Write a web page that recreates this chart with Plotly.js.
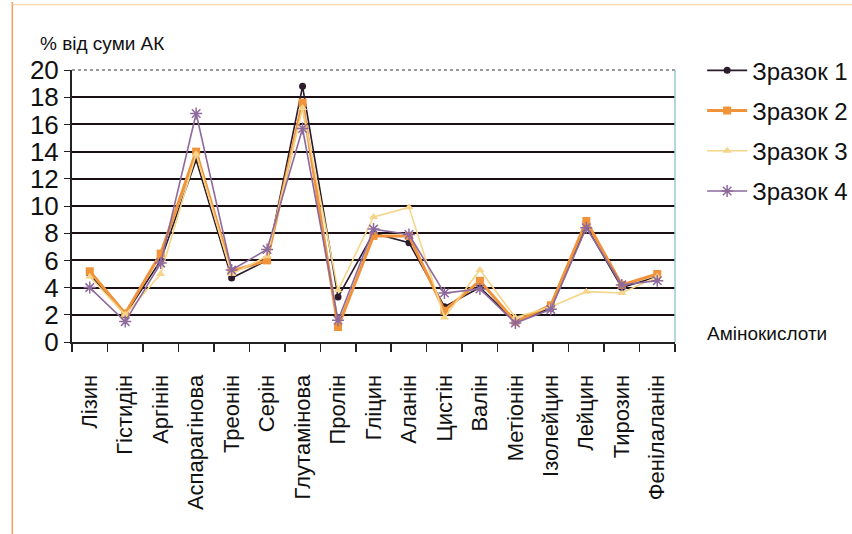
<!DOCTYPE html>
<html>
<head>
<meta charset="utf-8">
<script src="https://cdn.plot.ly/plotly-3.0.1.min.js"></script>
<style>html,body{margin:0;padding:0;background:#fff;}#chart{width:852px;height:534px;}</style>
</head>
<body>
<div id="chart"></div>
<script>
const categories = ["Лізин","Гістидін","Аргінін","Аспарагінова","Треонін","Серін","Глутамінова","Пролін","Гліцин","Аланін","Цистін","Валін","Метіонін","Ізолейцин","Лейцин","Тирозин","Фенілаланін"];
const sample1 = [5.0, 2.0, 6.0, 13.4, 4.7, 6.0, 18.8, 3.3, 8.0, 7.3, 2.6, 4.0, 1.5, 2.5, 8.5, 4.0, 4.8];
const sample2 = [5.2, 2.1, 6.5, 14.0, 5.2, 6.0, 17.6, 1.1, 7.8, 7.8, 2.3, 4.5, 1.5, 2.7, 8.9, 4.2, 5.0];
const sample3 = [4.8, 2.0, 5.0, 13.8, 5.0, 6.3, 17.2, 3.8, 9.2, 9.9, 1.8, 5.3, 1.8, 2.6, 3.7, 3.6, 4.8];
const sample4 = [4.0, 1.5, 5.8, 16.8, 5.3, 6.8, 15.7, 1.6, 8.3, 7.9, 3.6, 3.9, 1.4, 2.4, 8.4, 4.2, 4.5];
const seriesNames = ["Зразок 1","Зразок 2","Зразок 3","Зразок 4"];
const yTicks = [0,2,4,6,8,10,12,14,16,18,20];

const colors = ["#2b1b2b","#f0933a","#f5d58a","#8e6a9c"];
const symbols = ["circle","square","triangle-up","asterisk-open"];
const sizes = [7,8,8,10];
const data = [sample1,sample2,sample3,sample4].map((vals,i)=>({
  type:"scatter", mode:"lines+markers", x:categories, y:vals, name:seriesNames[i], legendgroup:"g"+i,
  line:{color:colors[i], width: i===1?3:1.6},
  marker:{color:colors[i], symbol:symbols[i], size:sizes[i], line:{color:colors[i], width: i===3?1.5:0}}
}));

const layout = {
  width:852, height:534,
  margin:{l:72, r:177, t:70, b:192, autoexpand:false},
  paper_bgcolor:"#fff", plot_bgcolor:"#fff",
  font:{family:"Liberation Sans, Arial, sans-serif", color:"#111"},
  showlegend:true,
  legend:{x:1.045, xanchor:"left", y:1.08, yanchor:"top", font:{size:24, color:"#111"}, tracegroupgap:6, itemwidth:40, bgcolor:"rgba(0,0,0,0)"},
  xaxis:{type:"category", range:[-0.5,16.5], tickangle:-90, tickfont:{size:22, color:"#111"},
         ticks:"outside", tickson:"boundaries", ticklen:8, tickcolor:"#222", tickwidth:1.5, ticklabelstandoff:22,
         showline:true, linecolor:"#222", linewidth:2, showgrid:false, automargin:false, fixedrange:true},
  yaxis:{range:[0,20], tickvals:yTicks, ticktext:yTicks.map(String), tickfont:{size:26, color:"#111"},
         ticks:"outside", ticklen:6, tickcolor:"#222", showline:true, linecolor:"#222", linewidth:2,
         showgrid:true, gridcolor:"#1a1014", gridwidth:2, zeroline:true, zerolinecolor:"#111", zerolinewidth:2.5, automargin:false},
  shapes:[
    {type:"line", xref:"paper", yref:"paper", x0:0, x1:1, y0:1, y1:1, line:{color:"#777", width:1.5, dash:"dot"}},
    {type:"line", xref:"paper", yref:"paper", x0:1, x1:1, y0:0, y1:1, line:{color:"#9ac8d8", width:1.5}},
    {type:"line", xref:"paper", yref:"paper", x0:-0.099, x1:-0.099, y0:-0.8, y1:1.25, line:{color:"#f0a060", width:1.5}},
    {type:"line", xref:"paper", yref:"paper", x0:-0.099, x1:1.3, y0:1.24, y1:1.24, line:{color:"#f7c8a0", width:1}}
  ],
  annotations:[
    {text:"% від суми АК", xref:"paper", yref:"paper", x:-0.057, y:1.05, xanchor:"left", yanchor:"bottom", showarrow:false, font:{size:19, color:"#111"}},
    {text:"Амінокислоти", xref:"paper", yref:"paper", x:1.05, y:0.03, xanchor:"left", yanchor:"middle", showarrow:false, font:{size:19, color:"#111"}}
  ]
};
Plotly.newPlot("chart", data, layout, {displayModeBar:false, staticPlot:true});
</script>
</body>
</html>
